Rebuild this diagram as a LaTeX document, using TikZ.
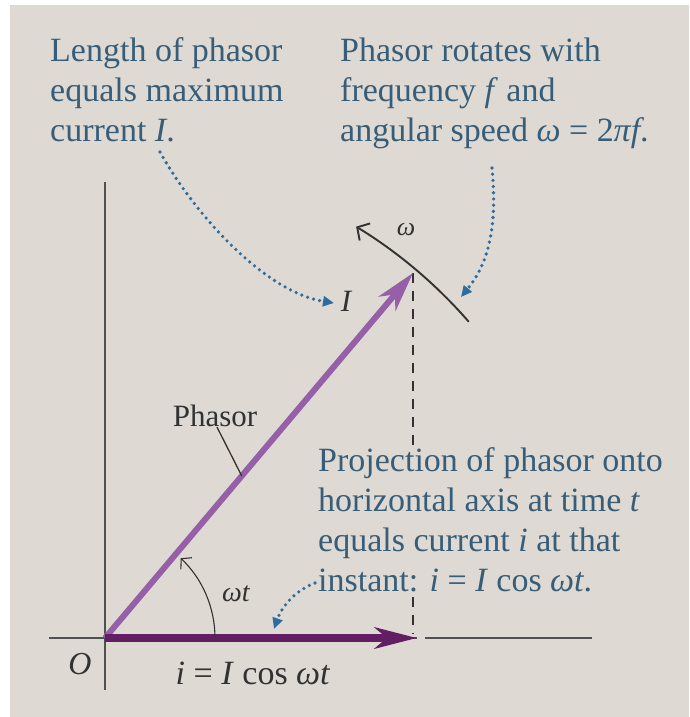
\documentclass[tikz,border=0pt]{standalone}
\usepackage{fontspec}
\setmainfont{Liberation Serif}
\usetikzlibrary{arrows.meta,calc}
\definecolor{paper}{RGB}{222,218,211}
\definecolor{bluetext}{RGB}{55,93,120}
\definecolor{dotblue}{RGB}{45,108,160}
\definecolor{phasorcol}{RGB}{150,96,168}
\definecolor{darkpurple}{RGB}{98,30,98}
\definecolor{ink}{RGB}{50,50,50}
\tikzset{
  bluetxt/.style={text=bluetext, align=left, inner sep=0pt, anchor=base west,
    font=\fontsize{34}{40}\selectfont},
  lbl/.style={text=ink, inner sep=0pt, font=\fontsize{31}{36}\selectfont},
  axisline/.style={draw=ink!85, line width=1.4pt},
  dotarrow/.style={draw=dotblue, line width=3.6pt, dash pattern=on 0pt off 6.2pt,
    line cap=round, -{Triangle[length=11pt,width=10pt]}},
  thinarc/.style={draw=ink, line width=1.1pt, -{Straight Barb[length=7pt,width=16pt,line width=1.1pt]}},
}
\begin{document}
\begin{tikzpicture}[x=1pt,y=-1pt]
\useasboundingbox (0,0) rectangle (689,717);
\fill[white] (0,0) rectangle (689,717);
\fill[paper] (10,5) rectangle (689,717);

% key points
\coordinate (O) at (105,638);
\coordinate (tip) at (413,273);
\coordinate (htip) at (417,638);
\coordinate (foot) at (413,634);

% axes
\coordinate (vtop) at (105,182);
\coordinate (vbot) at (105,690);
\coordinate (hleft) at (49,638);
\coordinate (hr1) at (425,638);
\coordinate (hr2) at (592,638);
\draw[axisline] (vtop) -- (vbot);
\draw[axisline] (hleft) -- (htip);
\draw[axisline] (hr1) -- (hr2);

% dashed projection line
\draw[ink, line width=1.6pt, dash pattern=on 10pt off 8pt] (tip) -- (foot);

% texts (anchor = baseline of last line)
\node[bluetxt] (lenTxt) at (50,141) {Length of phasor\\equals maximum\\current \textit{I}.};
\node[bluetxt] (rotTxt) at (340,141) {Phasor rotates with\\frequency \textit{f} and\\angular speed \textit{ω} = 2\textit{πf}.};
\node[bluetxt, fill=paper] (projTxt) at (318,591) {Projection of phasor onto\\horizontal axis at time \textit{t}\\equals current \textit{i} at that\\instant: \textit{i} = \textit{I} cos \textit{ωt}.};

% phasor and projection arrows
\draw[phasorcol, line width=6pt,
  -{Stealth[length=40pt,width=22pt,inset=12pt]}] (O) -- (tip);
\draw[darkpurple, line width=7.5pt,
  -{Stealth[length=42pt,width=21pt,inset=12pt]}] (O) -- (htip);

% rotation arc (y axis points down, so angles are negated)
\path (O) ++(-41:482) coordinate (rotS);
\draw[ink, line width=1.9pt, -{Straight Barb[length=9pt,width=20pt,line width=1.9pt]}]
  (rotS) arc[start angle=-41, end angle=-58.6, radius=482];
\node[lbl, font=\fontsize{26}{30}\selectfont\itshape] (omg) at (406,230) {ω};

% angle arc
\path (O) ++(0:110) coordinate (angS);
\draw[thinarc] (angS) arc[start angle=0, end angle=-46.5, radius=110];
\node[lbl, font=\fontsize{28}{32}\selectfont\itshape] (wt) at (236,594) {ωt};

% labels
\node[lbl, font=\fontsize{31}{36}\selectfont\itshape] (Ilbl) at (346,301) {I};
\node[lbl] (phl) at (215,416) {Phasor};
\coordinate (pm) at ($(O)!0.444!(tip)$);
\draw[ink, line width=1.3pt] ([xshift=2pt]phl.south) -- (pm);
\node[lbl, font=\fontsize{32}{36}\selectfont\itshape] (Olbl) at (80,664) {O};
\node[lbl, font=\fontsize{34}{38}\selectfont] (eq) at (253,673)
  {\textit{i} = \textit{I} cos \textit{ωt}};

% dotted pointer arrows
\coordinate (d1s) at (160,152);
\coordinate (d1e) at (334,303);
\draw[dotarrow] (d1s) .. controls (195,215) and (265,292) .. (d1e);
\coordinate (d2s) at (492,168);
\coordinate (d2e) at (461,297);
\draw[dotarrow] (d2s) .. controls (498,230) and (487,265) .. (d2e);
\coordinate (d3s) at (315,583);
\coordinate (d3e) at (274,629);
\draw[dotarrow] (d3s) .. controls (296,590) and (282,606) .. (d3e);
\end{tikzpicture}
\end{document}
